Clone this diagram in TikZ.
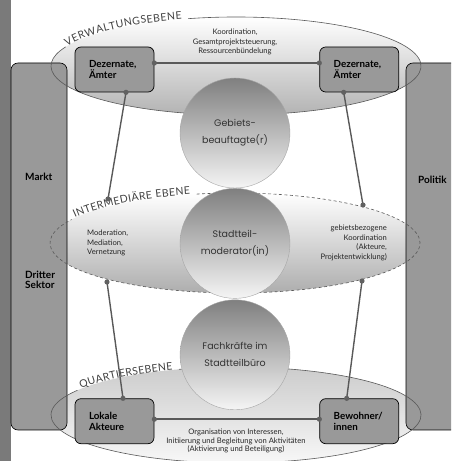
\documentclass[tikz,border=0pt]{standalone}
\usepackage{fontspec}
\setmainfont{Lato}
\newfontfamily\roundfont{Poppins}
\usetikzlibrary{positioning,calc,decorations.text}

\begin{document}
\begin{tikzpicture}[x=1pt,y=1pt,
         pillar/.style = {draw=black,line width=0.6pt,fill=black!40,
            rounded corners=7pt},
         office/.style = {draw=black,line width=0.7pt,fill=black!40,
            rounded corners=6pt,minimum height=45pt,
            text width=51pt,align=left,inner xsep=14pt,inner ysep=0pt,
            font=\bfseries\fontsize{9.8}{10.5}\selectfont},
         actor/.style = {circle,draw=black!35,line width=0.4pt,
            minimum size=110pt,inner sep=0pt,top color=black!50,
            bottom color=black!4,align=center,text=black!80,
            font=\roundfont\fontsize{9.5}{17}\selectfont},
         note/.style = {inner sep=0pt,text=black!85,
            font=\fontsize{7.6}{9.6}\selectfont},
         side/.style = {inner sep=0pt,align=left,
            font=\bfseries\fontsize{10}{10}\selectfont},
         link/.style = {draw=black!65,line width=1.4pt},
         dot/.style = {fill=black!62},
         rim/.style = {draw=black!65,line width=0.6pt},
         levelname/.style = {decorate,decoration={text along path,
            text align=fit to path,text color=black!75,
            text={|\fontsize{10.5}{11}\selectfont|#1}}}
]
      \useasboundingbox (0,0) rectangle (451,461);
      \clip (0,0) rectangle (451,461);

      % ellipse centres
      \coordinate (ev) at (236,395);
      \coordinate (ei) at (235,218);
      \coordinate (eq) at (236,46);

      % left strip
      \fill[black!52] (0,0) rectangle (10.5,461);

      % level fills
      \shade[top color=white,bottom color=black!30]
         (ev) ellipse [x radius=185pt,y radius=49pt];
      \shade[top color=white,bottom color=black!32]
         (ei) ellipse [x radius=185pt,y radius=50pt];
      \shade[top color=black!20,bottom color=black!3]
         (eq) ellipse [x radius=185pt,y radius=48pt];

      % pillars
      \draw[pillar] (11,31) rectangle (67,398);
      \draw[pillar] (406,31) rectangle (480,398);

      % level outlines and names
      \draw[rim] (ev) ++(105:185pt and 49pt)
         arc[start angle=105,end angle=-203,x radius=185pt,y radius=49pt];
      \path[levelname=VERWALTUNGSEBENE] (ev) ++(156:185pt and 49pt)
         arc[start angle=156,end angle=107,x radius=185pt,y radius=49pt];

      \draw[rim,dash pattern=on 3pt off 2.5pt] (ei) ++(102:185pt and 50pt)
         arc[start angle=102,end angle=-208,x radius=185pt,y radius=50pt];
      \path[levelname=INTERMEDIÄRE EBENE] (ei) ++(150:185pt and 50pt)
         arc[start angle=150,end angle=104,x radius=185pt,y radius=50pt];

      \draw[rim] (eq) ++(108:185pt and 48pt)
         arc[start angle=108,end angle=-211,x radius=185pt,y radius=48pt];
      \path[levelname=QUARTIERSEBENE] (eq) ++(147:185pt and 48pt)
         arc[start angle=147,end angle=110,x radius=185pt,y radius=48pt];

      % actors in the middle
      \node[actor]                       (beauftragt) at (235,328) {Gebiets-\\beauftagte(r)};
      \node[actor,below=0pt of beauftragt] (moderator) {Stadtteil-\\moderator(in)};
      \node[actor,below=1pt of moderator]  (buero)     {Fachkräfte im\\Stadtteilbüro};

      % offices and residents
      \node[office]                   (amt1)     at (114.5,391.5) {Dezernate,\\Ämter};
      \node[office,right=165pt of amt1] (amt2)     {Dezernate,\\Ämter};
      \node[office,below=306pt of amt1] (akteure)  {Lokale\\Akteure};
      \node[office,below=306pt of amt2] (bewohner) {Bewohner/\\innen};

      % connector ends
      \coordinate (amt1-r)     at ([yshift=6.5pt]amt1.east);
      \coordinate (amt2-l)     at ([yshift=6.5pt]amt2.west);
      \coordinate (amt1-b)     at ([xshift=11.5pt]amt1.south);
      \coordinate (amt2-b)     at ([xshift=-15.5pt]amt2.south);
      \coordinate (mid-tl)     at (108,262);
      \coordinate (mid-tr)     at (363,256);
      \coordinate (mid-bl)     at (107,179);
      \coordinate (mid-br)     at (362,180);
      \coordinate (akteure-t)  at ([xshift=8.5pt]akteure.north);
      \coordinate (bewohner-t) at ([xshift=-12.5pt]bewohner.north);
      \coordinate (akteure-r)  at ([yshift=2pt]akteure.east);
      \coordinate (bewohner-l) at ([yshift=2pt]bewohner.west);

      \foreach \a/\b in {amt1-r/amt2-l,amt1-b/mid-tl,amt2-b/mid-tr,
            mid-bl/akteure-t,mid-br/bewohner-t,akteure-r/bewohner-l}{
         \draw[link] (\a) -- (\b);
         \fill[dot] (\a) circle (2.6pt) (\b) circle (2.6pt);
      }

      % tasks
      \node[note,align=center,font=\fontsize{7.6}{9.8}\selectfont]
         (steuerung) at (235,419) {Koordination,\\Gesamtprojektsteuerung,\\Ressourcenbündelung};
      \node[note,align=left,anchor=west]
         (vernetzung) at (87,218) {Moderation,\\Mediation,\\Vernetzung};
      \node[note,align=right,anchor=east]
         (koordination) at (387,218) {gebietsbezogene\\Koordination\\(Akteure,\\Projektentwicklung)};
      \node[note,align=center,font=\fontsize{7.6}{8.8}\selectfont]
         (beteiligung) at (236,20) {Organisation von Interessen,\\Initiierung und Begleitung von Aktivitäten\\(Aktivierung und Beteiligung)};

      % pillar labels
      \node[side,anchor=west] (markt)   at (25,284)  {Markt};
      \node[side,anchor=west] (sektor)  at (25,181)  {Dritter\\Sektor};
      \node[side,anchor=west] (politik) at (418,281) {Politik};
\end{tikzpicture}
\end{document}
